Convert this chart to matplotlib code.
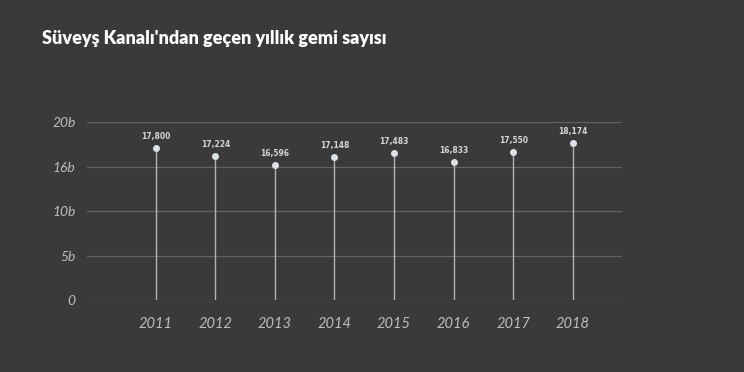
import matplotlib.pyplot as plt

years = ["2011", "2012", "2013", "2014", "2015", "2016", "2017", "2018"]
ships = [17800, 17224, 16596, 17148, 17483, 16833, 17550, 18174]
value_labels = ["17,800", "17,224", "16,596", "17,148", "17,483", "16,833", "17,550", "18,174"]
ytick_labels = ["0", "5b", "10b", "16b", "20b"]

# the original axis is truncated: "0" sits at ~6.6k and "20b" at ~19.7k
y_base = 6620
y_top = 19745

bg = "#3a3a3a"
fig = plt.figure(figsize=(7.44, 3.72), dpi=100, facecolor=bg)
ax = fig.add_axes([0.1165, 0.1935, 0.719, 0.4785], facecolor=bg)

x = list(range(len(years)))
step = (y_top - y_base) / (len(ytick_labels) - 1)
yticks = [y_base + i * step for i in range(len(ytick_labels))]

for yt in yticks:
    ax.axhline(yt, color="#626262", linewidth=0.9, zorder=1)

ax.vlines(x, y_base, ships, color="#b4b4b4", linewidth=1.0, zorder=2)
ax.scatter(x, ships, s=16, color="#dde2e8", zorder=3)
for xi, v, lab in zip(x, ships, value_labels):
    ax.annotate(lab, (xi, v), xytext=(0, 5), textcoords="offset points",
                ha="center", va="bottom", fontsize=5.5, fontweight="bold",
                color="#d4d4d4")

tick_font = dict(family=["Lato", "DejaVu Sans"], style="italic", weight="normal")
ax.set_xlim(-1.16, 7.82)
ax.set_ylim(y_base, y_top)
ax.set_xticks(x)
ax.set_xticklabels(years, fontsize=10.5, **tick_font)
ax.set_yticks(yticks)
ax.set_yticklabels(ytick_labels, fontsize=10, **tick_font)
ax.tick_params(axis="both", length=0, labelcolor="#bdbdbd")
ax.tick_params(axis="x", pad=12)
ax.tick_params(axis="y", pad=8)
for s in ax.spines.values():
    s.set_visible(False)

fig.text(0.057, 0.897, "Süveyş Kanalı'ndan geçen yıllık gemi sayısı",
         family=["Lato", "DejaVu Sans"],
         fontsize=13, fontweight="heavy", color="white", ha="left", va="center")

fig.savefig("out.png", dpi=100, facecolor=bg)
